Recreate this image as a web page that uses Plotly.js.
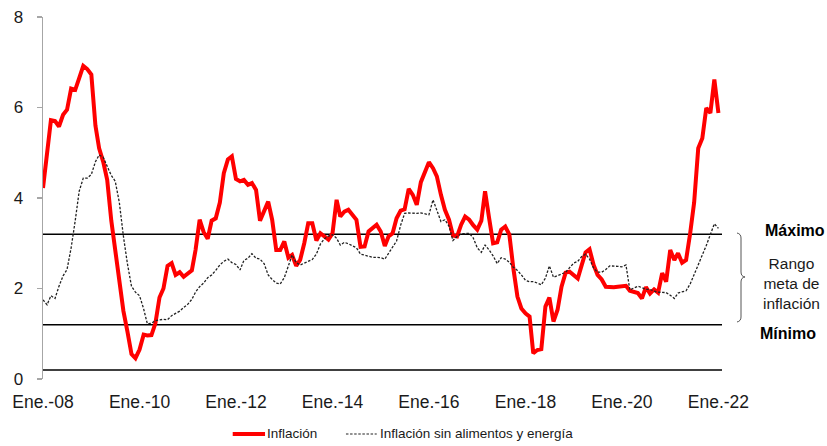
<!DOCTYPE html>
<html>
<head>
<meta charset="utf-8">
<script src="https://cdn.plot.ly/plotly-3.0.1.min.js"></script>
<style>
  html, body { margin: 0; padding: 0; background: #ffffff; }
  #chart { width: 827px; height: 446px; }
</style>
</head>
<body>
<div id="chart"></div>
<script>
// Monthly series, January 2008 to January 2022 (12-month % change)
const startYear = 2008;

const inflacion = [
  4.22, 4.95, 5.72, 5.70, 5.58, 5.84, 5.95, 6.42, 6.39, 6.65, 6.92, 6.85,
  6.73, 5.60, 5.10, 4.80, 4.40, 3.50, 2.88, 2.20, 1.50, 1.05, 0.55, 0.46,
  0.65, 0.98, 0.96, 0.97, 1.23, 1.80, 2.00, 2.50, 2.56, 2.30, 2.36, 2.26,
  2.32, 2.40, 2.85, 3.52, 3.25, 3.10, 3.50, 3.55, 3.90, 4.55, 4.85, 4.92,
  4.42, 4.37, 4.40, 4.29, 4.33, 4.18, 3.50, 3.70, 3.92, 3.52, 2.85, 2.85,
  3.04, 2.68, 2.74, 2.50, 2.63, 3.00, 3.44, 3.44, 3.06, 3.22, 3.15, 3.08,
  3.22, 3.96, 3.59, 3.70, 3.74, 3.63, 3.52, 2.92, 2.93, 3.26, 3.33, 3.41,
  3.26, 2.94, 3.15, 3.22, 3.55, 3.72, 3.75, 4.20, 4.07, 3.85, 4.35, 4.59,
  4.79, 4.66, 4.48, 4.07, 3.74, 3.52, 3.17, 3.15, 3.41, 3.59, 3.52, 3.40,
  3.30, 3.50, 4.15, 3.55, 3.00, 3.02, 3.30, 3.37, 3.19, 2.45, 1.82, 1.56,
  1.45, 1.38, 0.57, 0.64, 0.66, 1.60, 1.80, 1.27, 1.53, 2.04, 2.35, 2.37,
  2.30, 2.22, 2.50, 2.80, 2.87, 2.52, 2.30, 2.20, 2.04, 2.03, 2.03, 2.04,
  2.04, 2.06, 1.95, 1.93, 1.90, 1.78, 2.03, 1.89, 1.98, 1.91, 2.34, 2.15,
  2.85, 2.63, 2.78, 2.57, 2.63, 3.22, 3.90, 5.10, 5.32, 5.99, 5.88, 6.62,
  5.88
];

const inflacionSinAlimentosEnergia = [
  1.75, 1.64, 1.84, 1.78, 2.05, 2.28, 2.42, 2.90, 3.50, 4.15, 4.44, 4.44,
  4.52, 4.80, 4.95, 4.90, 4.70, 4.50, 4.37, 3.90, 3.15, 2.55, 2.05, 1.92,
  1.84, 1.55, 1.22, 1.23, 1.29, 1.30, 1.32, 1.31, 1.40, 1.45, 1.50, 1.58,
  1.65, 1.76, 1.92, 2.04, 2.12, 2.24, 2.30, 2.40, 2.52, 2.60, 2.65, 2.57,
  2.53, 2.41, 2.62, 2.67, 2.77, 2.67, 2.65, 2.55, 2.30, 2.20, 2.12, 2.10,
  2.24, 2.50, 2.74, 2.57, 2.52, 2.56, 2.60, 2.64, 2.76, 2.98, 3.10, 3.16,
  3.19, 3.11, 2.96, 3.02, 2.99, 2.95, 2.90, 2.76, 2.74, 2.72, 2.69, 2.69,
  2.68, 2.65, 2.78, 2.93, 3.05, 3.40, 3.66, 3.67, 3.66, 3.66, 3.67, 3.65,
  3.63, 3.96, 3.74, 3.48, 3.52, 3.38, 3.06, 3.15, 3.21, 3.22, 3.22, 3.12,
  2.90, 2.80, 2.96, 2.85, 2.72, 2.55, 2.68, 2.65, 2.58, 2.47, 2.40, 2.30,
  2.18, 2.15, 2.15, 2.12, 2.08, 2.23, 2.50, 2.25, 2.28, 2.32, 2.36, 2.45,
  2.56, 2.60, 2.70, 2.76, 2.65, 2.45, 2.36, 2.36, 2.42, 2.50, 2.50, 2.49,
  2.48, 2.52, 1.97, 2.02, 2.05, 2.02, 1.98, 1.98, 1.94, 1.92, 1.91, 1.91,
  1.85, 1.78, 1.90, 1.93, 1.95, 2.10, 2.32, 2.55, 2.74, 2.95, 3.20, 3.43,
  3.33
];

const tickYears = [2008, 2010, 2012, 2014, 2016, 2018, 2020, 2022];
const tickLabels = ['Ene.-08', 'Ene.-10', 'Ene.-12', 'Ene.-14', 'Ene.-16', 'Ene.-18', 'Ene.-20', 'Ene.-22'];

// Target range bounds and the lower reference line
const metaMaximo = 3.2;
const metaMinimo = 1.2;
const lineaInferior = 0.2;

const serieNombres = ['Inflación', 'Inflación sin alimentos y energía'];
const serieColores = ['#ff0000', '#222222'];

const fechas = inflacion.map((_, i) => {
  const y = startYear + Math.floor(i / 12);
  const m = (i % 12) + 1;
  return y + '-' + String(m).padStart(2, '0') + '-01';
});

const fontFamily = '"Liberation Sans", Arial, sans-serif';
const textColor = '#1a1a1a';
const dotDash = '2.5px,1.6px';

const traces = [
  {
    x: fechas,
    y: inflacion,
    type: 'scatter',
    mode: 'lines',
    name: serieNombres[0],
    line: { color: serieColores[0], width: 4 }
  },
  {
    x: fechas,
    y: inflacionSinAlimentosEnergia,
    type: 'scatter',
    mode: 'lines',
    name: serieNombres[1],
    line: { color: serieColores[1], width: 1.3, dash: dotDash }
  }
];

const refLine = (yv) => ({
  type: 'line', xref: 'paper', yref: 'y',
  x0: 0, x1: 1, y0: yv, y1: yv,
  line: { color: '#000000', width: 1.4 },
  layer: 'below'
});

// Legend row beneath the axis, drawn as sample strokes plus labels
const legendY = -0.1519;
const legendSample = (x0, x1, color, width, dash) => ({
  type: 'line', xref: 'paper', yref: 'paper',
  x0: x0, x1: x1, y0: legendY, y1: legendY,
  line: { color: color, width: width, dash: dash }
});
const legendLabel = (x, text) => ({
  xref: 'paper', yref: 'paper', x: x, y: legendY,
  text: text, showarrow: false,
  xanchor: 'left', yanchor: 'middle',
  font: { family: fontFamily, size: 13.5, color: textColor }
});

const shapes = [
  refLine(metaMaximo),
  refLine(metaMinimo),
  refLine(lineaInferior),
  {
    // curly brace spanning the target range
    type: 'path', xref: 'paper', yref: 'paper',
    path: 'M 1.0221,0.4033 Q 1.0280,0.4010 1.0280,0.3895 L 1.0280,0.2956 ' +
          'Q 1.0280,0.2830 1.0339,0.2818 Q 1.0280,0.2806 1.0280,0.2680 ' +
          'L 1.0280,0.1713 Q 1.0280,0.1598 1.0221,0.1575',
    line: { color: '#555555', width: 1 }
  },
  legendSample(0.2794, 0.3270, serieColores[0], 4, 'solid'),
  legendSample(0.4462, 0.4915, serieColores[1], 1.2, dotDash)
];

const annotations = [
  {
    xref: 'paper', yref: 'paper', x: 1.107, y: 0.4116,
    text: '<b>Máximo</b>', showarrow: false,
    xanchor: 'center', yanchor: 'middle',
    font: { family: fontFamily, size: 16, color: '#000000' }
  },
  {
    xref: 'paper', yref: 'paper', x: 1.103, y: 0.265,
    text: 'Rango<br>meta de<br>inflación', showarrow: false,
    xanchor: 'center', yanchor: 'middle', align: 'center',
    font: { family: fontFamily, size: 15.5, color: textColor }
  },
  {
    xref: 'paper', yref: 'paper', x: 1.097, y: 0.127,
    text: '<b>Mínimo</b>', showarrow: false,
    xanchor: 'center', yanchor: 'middle',
    font: { family: fontFamily, size: 16, color: '#000000' }
  },
  legendLabel(0.3275, serieNombres[0]),
  legendLabel(0.4930, serieNombres[1])
];

const layout = {
  width: 827,
  height: 446,
  margin: { l: 43, r: 105, t: 17, b: 67, pad: 0 },
  paper_bgcolor: '#ffffff',
  plot_bgcolor: '#ffffff',
  font: { family: fontFamily, color: textColor },
  showlegend: false,
  xaxis: {
    type: 'date',
    range: ['2008-01-01', '2022-01-28'],
    tickvals: tickYears.map(y => y + '-01-01'),
    ticktext: tickLabels,
    showline: false, showgrid: false, zeroline: false,
    ticks: '',
    ticklabelstandoff: 10,
    automargin: false,
    tickfont: { family: fontFamily, size: 17.5, color: textColor }
  },
  yaxis: {
    range: [0, 8],
    tickvals: [0, 2, 4, 6, 8],
    showline: true, linecolor: '#a6a6a6', linewidth: 1.5,
    ticks: 'outside', ticklen: 5, tickwidth: 1.5, tickcolor: '#a6a6a6',
    showgrid: false, zeroline: false,
    ticklabelstandoff: 10,
    automargin: false,
    tickfont: { family: fontFamily, size: 17, color: textColor }
  },
  shapes: shapes,
  annotations: annotations
};

Plotly.newPlot('chart', traces, layout, { displayModeBar: false, staticPlot: true });
</script>
</body>
</html>
